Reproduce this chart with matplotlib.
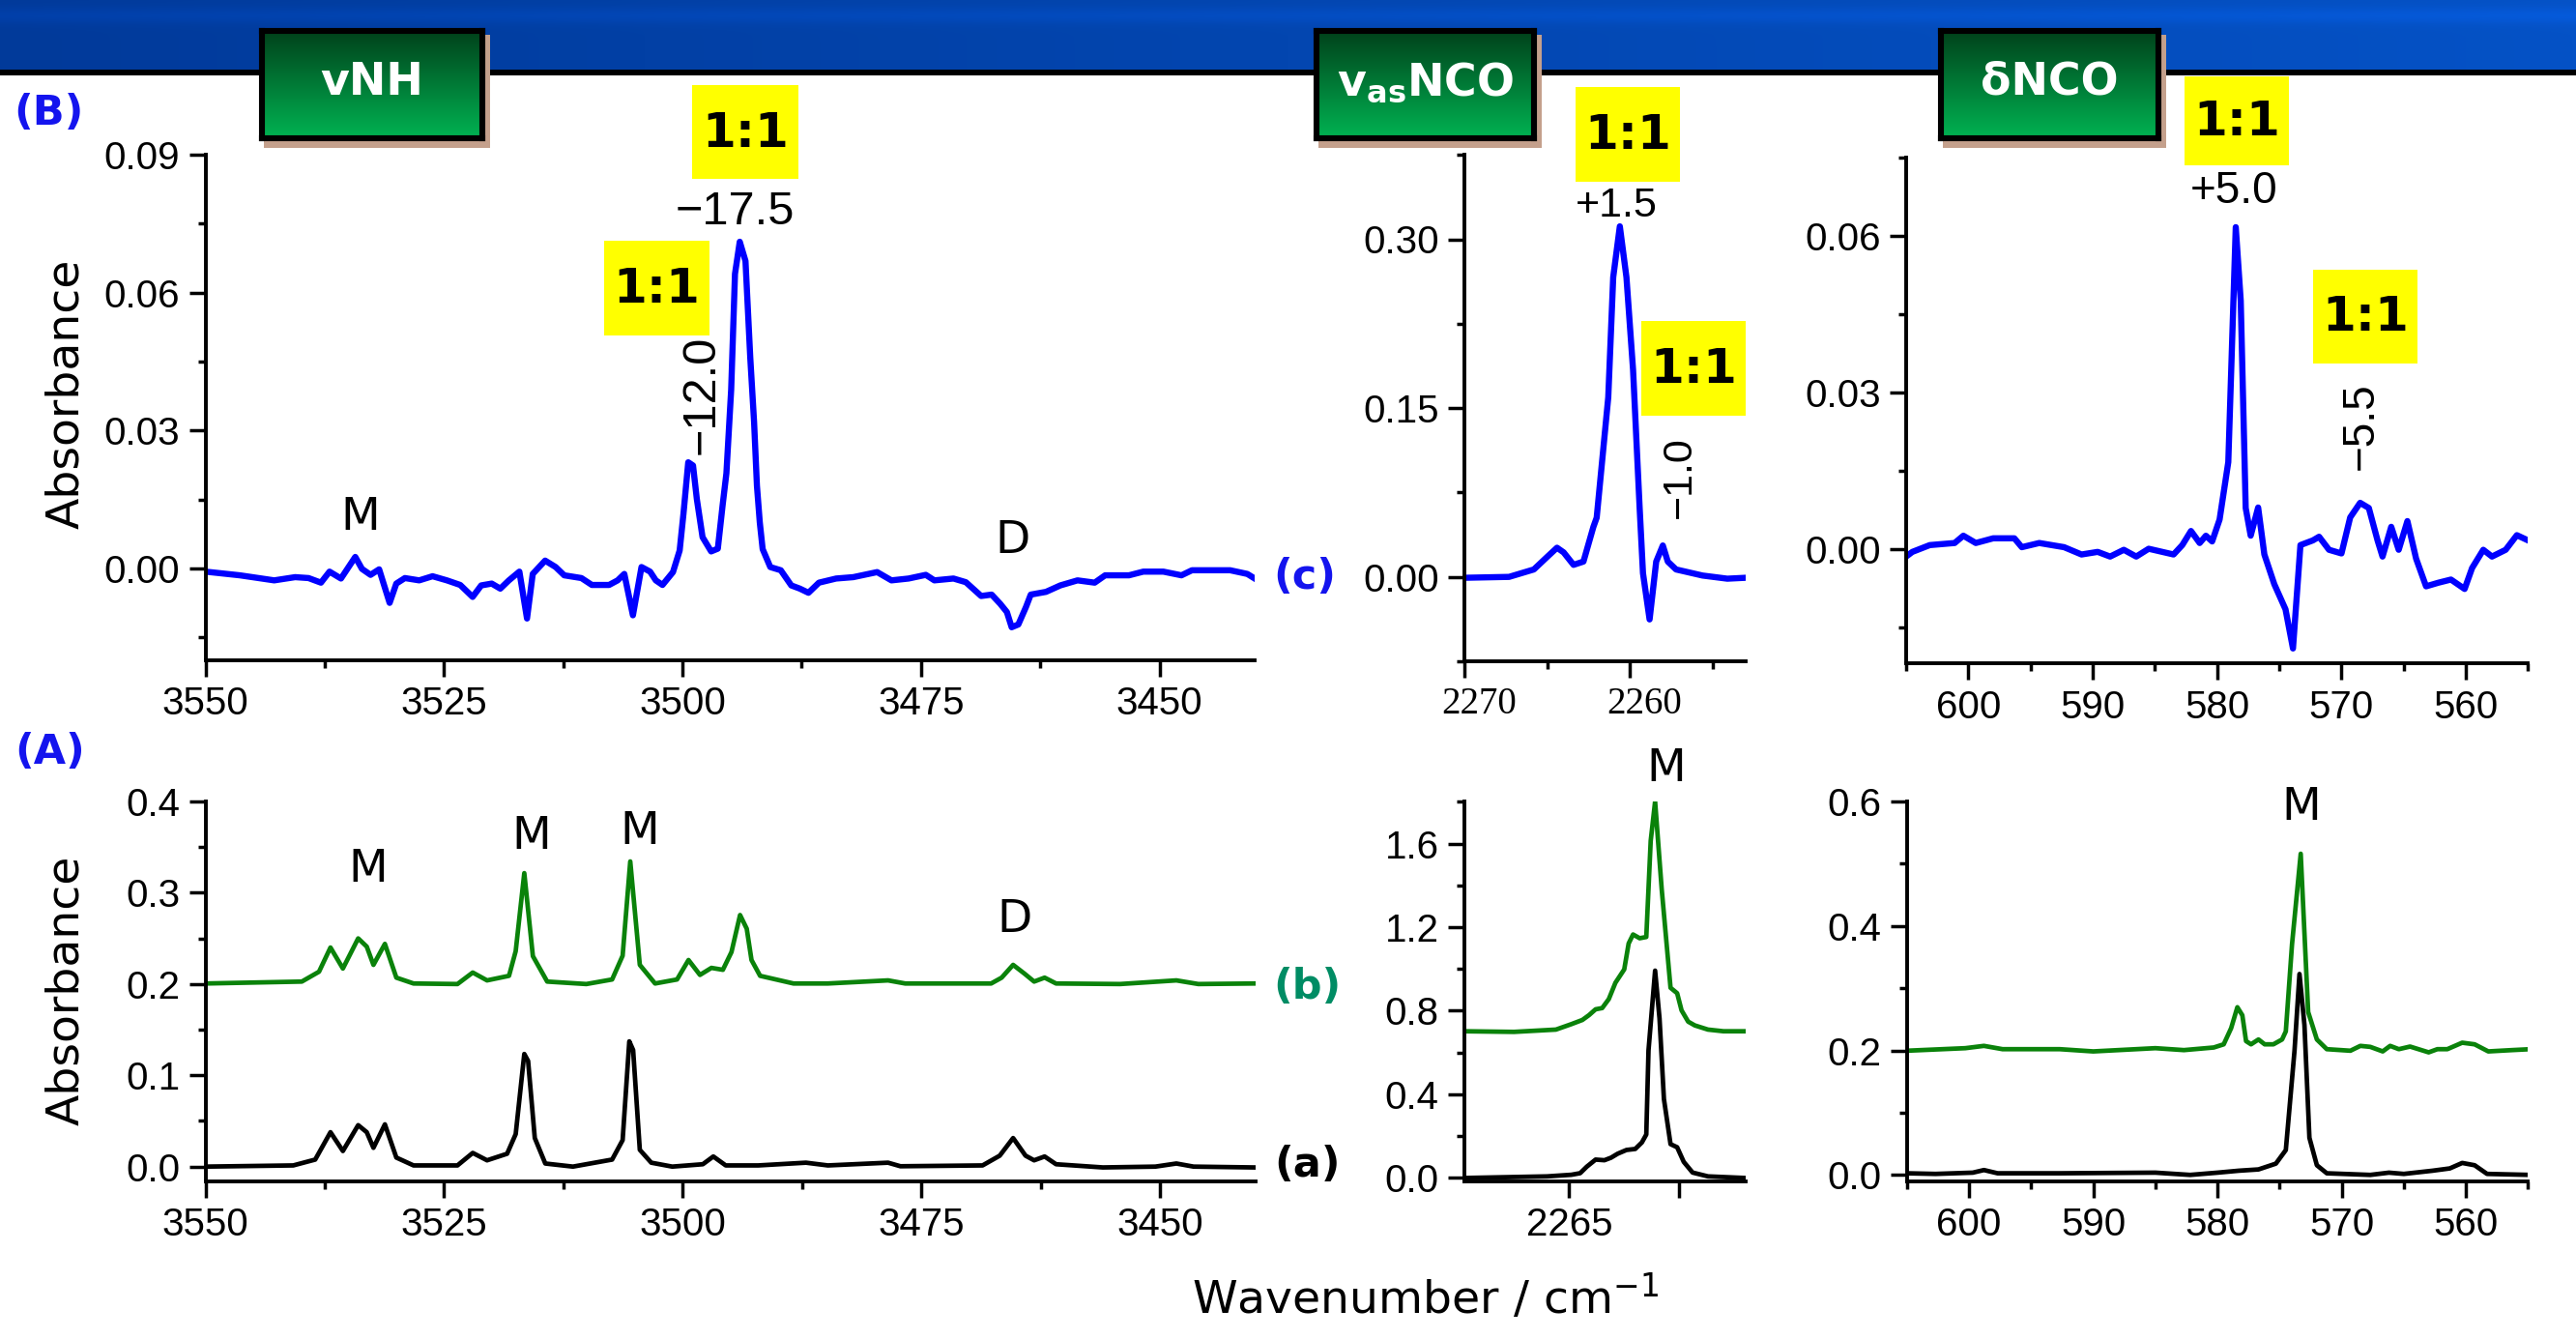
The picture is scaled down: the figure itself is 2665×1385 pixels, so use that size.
import numpy as np
import matplotlib
matplotlib.use('Agg')
import matplotlib.pyplot as plt
from matplotlib.patches import Rectangle
from matplotlib.transforms import ScaledTranslation
import matplotlib.colors as mcolors

# ---------------- data ----------------
# (B) difference spectra, blue
nh_diff = [(3550.0, -0.0007), (3546.4, -0.0015), (3542.8, -0.0026), (3540.6, -0.0019), (3539.2, -0.0021),
           (3537.9, -0.0031), (3537.0, -0.0007), (3535.8, -0.0022), (3534.3, 0.0025), (3533.6, -0.0001),
           (3532.7, -0.0014), (3531.8, -0.0002), (3530.7, -0.0075), (3530.0, -0.0033), (3529.1, -0.0021),
           (3527.6, -0.0026), (3526.2, -0.0017), (3524.7, -0.0026), (3523.3, -0.0036), (3522.0, -0.0062),
           (3521.1, -0.0037), (3520.0, -0.0033), (3519.1, -0.0044), (3518.2, -0.0026), (3517.1, -0.0007),
           (3516.3, -0.0109), (3515.7, -0.0012), (3514.4, 0.0017), (3513.3, 0.0003), (3512.4, -0.0015),
           (3510.6, -0.0021), (3509.5, -0.0036), (3507.7, -0.0036), (3506.8, -0.0026), (3506.1, -0.0012),
           (3505.2, -0.0102), (3504.3, 0.0003), (3503.4, -0.0007), (3502.8, -0.0026), (3502.1, -0.0036),
           (3501.0, -0.0008), (3500.3, 0.0039), (3499.9, 0.0119), (3499.4, 0.0231), (3498.9, 0.0224),
           (3498.5, 0.0151), (3497.9, 0.0068), (3497.0, 0.0037), (3496.3, 0.0043), (3495.8, 0.0137),
           (3495.4, 0.0207), (3494.9, 0.0389), (3494.5, 0.0641), (3494.0, 0.0711), (3493.4, 0.0669),
           (3492.9, 0.0459), (3492.5, 0.0319), (3492.2, 0.0180), (3491.9, 0.0100), (3491.6, 0.0042),
           (3490.8, 0.0003), (3489.7, -0.0004), (3488.6, -0.0037), (3487.7, -0.0044), (3486.8, -0.0053),
           (3485.7, -0.0031), (3483.9, -0.0022), (3482.1, -0.0019), (3479.6, -0.0008), (3478.1, -0.0026),
           (3476.3, -0.0022), (3474.5, -0.0014), (3473.6, -0.0026), (3471.6, -0.0022), (3470.3, -0.0030),
           (3468.7, -0.0060), (3467.6, -0.0057), (3466.7, -0.0077), (3466.0, -0.0095), (3465.5, -0.0128),
           (3464.8, -0.0122), (3464.0, -0.0084), (3463.5, -0.0057), (3461.9, -0.0051), (3460.4, -0.0037),
           (3458.6, -0.0026), (3456.8, -0.0031), (3455.7, -0.0015), (3453.2, -0.0015), (3451.7, -0.0007),
           (3449.6, -0.0007), (3447.7, -0.0015), (3446.6, -0.0004), (3442.6, -0.0004), (3440.8, -0.0012),
           (3440.1, -0.0021)]

nco_diff = [(2270.0, -0.0008), (2267.3, 0.0), (2265.8, 0.0066), (2265.0, 0.0177), (2264.4, 0.0259),
            (2264.0, 0.0218), (2263.4, 0.0107), (2262.8, 0.0136), (2262.2, 0.0444), (2262.0, 0.0526),
            (2261.3, 0.1595), (2261.0, 0.2663), (2260.6, 0.3115), (2260.2, 0.2663), (2259.8, 0.1841),
            (2259.4, 0.0608), (2259.2, 0.0033), (2258.8, -0.0378), (2258.4, 0.0136), (2258.0, 0.0279),
            (2257.7, 0.0136), (2257.2, 0.0066), (2255.6, 0.0012), (2254.1, -0.0016), (2253.0, -0.0008)]

dnco_diff = [(605.0, -0.0015), (604.5, -0.0006), (603.1, 0.0007), (601.1, 0.0011), (600.4, 0.0025),
             (599.4, 0.0011), (598.0, 0.0020), (596.3, 0.0020), (595.7, 0.0003), (594.3, 0.0011),
             (592.3, 0.0003), (590.9, -0.0011), (589.6, -0.0006), (588.6, -0.0015), (587.5, -0.0002),
             (586.5, -0.0015), (585.5, 0.0), (583.5, -0.0011), (582.8, 0.0007), (582.1, 0.0034),
             (581.4, 0.0011), (580.9, 0.0025), (580.4, 0.0014), (579.8, 0.0056), (579.1, 0.0166),
             (578.5, 0.0616), (578.1, 0.0475), (577.7, 0.0078), (577.3, 0.0025), (576.7, 0.0079),
             (576.2, -0.0011), (575.4, -0.0068), (574.5, -0.0116), (573.9, -0.0191), (573.3, 0.0007),
             (572.3, 0.0016), (571.8, 0.0023), (571.0, -0.0002), (570.0, -0.0009), (569.3, 0.0060),
             (568.5, 0.0088), (567.8, 0.0078), (567.1, 0.0016), (566.7, -0.0015), (566.0, 0.0042),
             (565.4, -0.0002), (564.7, 0.0053), (564.0, -0.0019), (563.2, -0.0072), (562.2, -0.0065),
             (561.2, -0.0059), (560.1, -0.0077), (559.5, -0.0037), (558.6, -0.0002), (557.9, -0.0015),
             (556.8, -0.0002), (555.9, 0.0026), (555.0, 0.0016)]

# (A) spectra: (b) green, (a) black
nh_b = [(3550.0, 0.2006), (3539.9, 0.2027), (3538.1, 0.2135), (3536.9, 0.2400), (3535.6, 0.2170),
        (3534.0, 0.2500), (3533.1, 0.2410), (3532.4, 0.2210), (3531.2, 0.2440), (3530.0, 0.2070),
        (3528.2, 0.2006), (3523.6, 0.2000), (3522.0, 0.2126), (3520.5, 0.2040), (3518.2, 0.2090),
        (3517.5, 0.2360), (3516.6, 0.3215), (3515.7, 0.2306), (3514.2, 0.2027), (3510.1, 0.2000),
        (3507.4, 0.2050), (3506.3, 0.2310), (3505.5, 0.3343), (3504.5, 0.2210), (3502.9, 0.2006),
        (3500.6, 0.2050), (3499.4, 0.2263), (3498.2, 0.2100), (3497.0, 0.2177), (3495.8, 0.2156),
        (3494.9, 0.2350), (3494.0, 0.2756), (3493.3, 0.2606), (3492.8, 0.2263), (3491.9, 0.2090),
        (3488.4, 0.2006), (3484.8, 0.2006), (3478.5, 0.2040), (3476.7, 0.2006), (3467.7, 0.2006),
        (3466.6, 0.2070), (3465.4, 0.2210), (3464.2, 0.2113), (3463.2, 0.2027), (3462.1, 0.2070),
        (3460.9, 0.2006), (3454.2, 0.2000), (3448.3, 0.2040), (3446.0, 0.2000), (3440.2, 0.2006)]

nh_a = [(3550.0, 0.0), (3540.8, 0.0013), (3538.5, 0.0077), (3536.9, 0.0377), (3535.6, 0.0171),
        (3534.0, 0.0454), (3533.1, 0.0377), (3532.4, 0.0206), (3531.2, 0.0463), (3530.0, 0.0099),
        (3528.2, 0.0013), (3523.6, 0.0013), (3522.0, 0.0150), (3520.5, 0.0069), (3518.4, 0.0141),
        (3517.5, 0.0356), (3516.6, 0.1234), (3516.2, 0.1157), (3515.5, 0.0313), (3514.4, 0.0034),
        (3511.5, 0.0), (3507.4, 0.0077), (3506.3, 0.0290), (3505.6, 0.1372), (3505.2, 0.1277),
        (3504.5, 0.0184), (3503.3, 0.0043), (3501.1, 0.0), (3497.9, 0.0026), (3496.8, 0.0111),
        (3495.5, 0.0013), (3492.1, 0.0013), (3487.1, 0.0043), (3484.8, 0.0013), (3478.5, 0.0043),
        (3477.2, 0.0004), (3468.6, 0.0013), (3466.8, 0.0120), (3465.4, 0.0313), (3464.1, 0.0120),
        (3463.2, 0.0069), (3462.1, 0.0111), (3460.9, 0.0026), (3456.0, -0.0009), (3450.5, 0.0),
        (3448.3, 0.0034), (3446.5, 0.0), (3440.2, -0.0009)]

nco_b = [(2269.75, 0.702), (2267.5, 0.699), (2265.6, 0.710), (2264.9, 0.736), (2264.4, 0.756),
         (2264.1, 0.779), (2263.8, 0.807), (2263.5, 0.813), (2263.2, 0.856), (2262.9, 0.934),
         (2262.5, 0.998), (2262.3, 1.122), (2262.1, 1.165), (2261.8, 1.147), (2261.5, 1.153),
         (2261.3, 1.613), (2261.1, 1.801), (2260.8, 1.381), (2260.4, 0.910), (2260.1, 0.884),
         (2259.9, 0.802), (2259.6, 0.748), (2259.3, 0.730), (2258.7, 0.710), (2258.0, 0.702),
         (2257.0, 0.702)]

nco_a = [(2269.75, 0.0), (2266.0, 0.0077), (2264.9, 0.0154), (2264.5, 0.023), (2264.2, 0.054),
         (2263.8, 0.088), (2263.4, 0.085), (2263.1, 0.097), (2262.8, 0.116), (2262.4, 0.134),
         (2262.0, 0.139), (2261.7, 0.170), (2261.5, 0.208), (2261.4, 0.610), (2261.1, 0.992),
         (2260.9, 0.764), (2260.7, 0.378), (2260.4, 0.162), (2260.1, 0.147), (2259.8, 0.077),
         (2259.4, 0.026), (2258.7, 0.0077), (2257.0, 0.0)]

dnco_b = [(605.0, 0.1995), (600.3, 0.2036), (598.8, 0.2073), (597.3, 0.2020), (592.7, 0.2020),
          (590.0, 0.1984), (585.0, 0.2036), (582.7, 0.2005), (580.3, 0.2047), (579.5, 0.2098),
          (578.9, 0.2358), (578.4, 0.2694), (578.0, 0.2565), (577.7, 0.2150), (577.3, 0.2098),
          (576.7, 0.2176), (576.2, 0.2098), (575.5, 0.2098), (574.8, 0.2176), (574.5, 0.2306),
          (574.0, 0.3705), (573.3, 0.5160), (572.7, 0.2617), (572.0, 0.2176), (571.2, 0.2020),
          (569.3, 0.1995), (568.5, 0.2073), (567.7, 0.2057), (566.7, 0.1984), (566.1, 0.2073),
          (565.4, 0.2020), (564.5, 0.2062), (563.0, 0.1969), (562.3, 0.2020), (561.5, 0.2020),
          (560.3, 0.2124), (559.3, 0.2098), (558.2, 0.1984), (556.3, 0.2005), (554.8, 0.2020)]

dnco_a = [(605.0, 0.0026), (602.7, 0.0016), (599.7, 0.0036), (598.8, 0.0078), (597.7, 0.0026),
          (592.7, 0.0026), (585.0, 0.0036), (582.2, 0.0), (580.0, 0.0036), (578.3, 0.0067),
          (576.7, 0.0088), (575.3, 0.0181), (574.5, 0.0399), (573.8, 0.1995), (573.4, 0.3228),
          (573.0, 0.2409), (572.6, 0.0596), (572.0, 0.0155), (571.2, 0.0026), (567.7, 0.0),
          (566.2, 0.0036), (565.0, 0.0016), (562.7, 0.0067), (561.3, 0.0104), (560.3, 0.0192),
          (559.3, 0.0155), (558.3, 0.0016), (554.8, 0.0)]

# tick values / labels
nh_xticks = [3550, 3525, 3500, 3475, 3450]
nh_xlabels = ['3550', '3525', '3500', '3475', '3450']
nh_top_yticks = [0.0, 0.03, 0.06, 0.09]
nh_top_ylabels = ['0.00', '0.03', '0.06', '0.09']
nco_top_xticks = [2270, 2260]
nco_top_xlabels = ['2270', '2260']
nco_top_yticks = [0.0, 0.15, 0.30]
nco_top_ylabels = ['0.00', '0.15', '0.30']
dnco_xticks = [600, 590, 580, 570, 560]
dnco_xlabels = ['600', '590', '580', '570', '560']
dnco_top_yticks = [0.0, 0.03, 0.06]
dnco_top_ylabels = ['0.00', '0.03', '0.06']
nh_bot_yticks = [0.0, 0.1, 0.2, 0.3, 0.4]
nh_bot_ylabels = ['0.0', '0.1', '0.2', '0.3', '0.4']
nco_bot_xticks = [2265, 2260]
nco_bot_xlabels = ['2265', '']
nco_bot_yticks = [0.0, 0.4, 0.8, 1.2, 1.6]
nco_bot_ylabels = ['0.0', '0.4', '0.8', '1.2', '1.6']
dnco_bot_yticks = [0.0, 0.2, 0.4, 0.6]
dnco_bot_ylabels = ['0.0', '0.2', '0.4', '0.6']

# ---------------- figure ----------------
W, H = 2665, 1385
DPI = 100
plt.rcParams['font.family'] = ['DejaVu Sans']
fig = plt.figure(figsize=(W / DPI, H / DPI), dpi=DPI)
fig.patch.set_facecolor('white')

BLUE = '#0000ff'
GREEN = '#0a820a'
NUMFONT = 'Liberation Sans'


def add_ax(l, r, t, b, z=3):
    ax = fig.add_axes([l / W, 1 - b / H, (r - l) / W, (b - t) / H])
    ax.set_zorder(z)
    ax.set_facecolor('none')
    return ax


def frect(l, r, t, b, **kw):
    fig.add_artist(Rectangle((l / W, 1 - b / H), (r - l) / W, (b - t) / H,
                             transform=fig.transFigure, **kw))


def ftext(x, y, s, **kw):
    kw.setdefault('ha', 'center')
    kw.setdefault('va', 'center')
    fig.text(x / W, 1 - y / H, s, **kw)


# header band
hax = add_ax(0, W, 0, 72, z=0)
hax.axis('off')
gx = np.linspace(0, 1, 400)
gy = np.linspace(0, 1, 60)
c0 = np.array(mcolors.to_rgb('#013a9a'))
c1 = np.array(mcolors.to_rgb('#0552c6'))
img = c0[None, None, :] * (1 - gx[None, :, None]) + c1[None, None, :] * gx[None, :, None]
band = 1 + 0.10 * np.exp(-((gy - 0.22) / 0.12) ** 2)
img = np.clip(img * band[:, None, None], 0, 1)
hax.imshow(img, aspect='auto', extent=[0, 1, 0, 1], origin='upper')
hax.set_xlim(0, 1)
hax.set_ylim(0, 1)
frect(0, W, 72, 78, facecolor='black', edgecolor='none', zorder=1)

# green title boxes
gcol0 = np.array(mcolors.to_rgb('#00421b'))
gcol1 = np.array(mcolors.to_rgb('#00b352'))
gt = np.linspace(0, 1, 100)
gimg = gcol0[None, None, :] * (1 - gt[:, None, None]) + gcol1[None, None, :] * gt[:, None, None]


def title_box(l, r, t, b, label):
    frect(l + 5, r + 5, t + 7, b + 7, facecolor='#c4a08c', edgecolor='none', zorder=1)
    ax = add_ax(l + 3, r - 3, t + 3, b - 3, z=2)
    ax.imshow(gimg, aspect='auto', extent=[0, 1, 0, 1], origin='upper')
    ax.set_xlim(0, 1)
    ax.set_ylim(0, 1)
    ax.set_xticks([])
    ax.set_yticks([])
    for s in ax.spines.values():
        s.set_linewidth(4.4)
        s.set_color('black')
    ax.text(0.5, 0.52, label, transform=ax.transAxes, ha='center', va='center',
            color='white', fontsize=33, fontweight='bold')


title_box(268, 502, 29, 146, 'vNH')
title_box(1359, 1590, 29, 146, 'v$_{\\mathregular{as}}$NCO')
title_box(2005, 2236, 29, 146, '\u03b4NCO')


# ---------------- spectra axes ----------------
def style(ax, xlim, ylim, xt, xl, xminor, yt, yl, yminor):
    ax.set_xlim(*xlim)
    ax.set_ylim(*ylim)
    for s in ['top', 'right']:
        ax.spines[s].set_visible(False)
    for s in ['left', 'bottom']:
        ax.spines[s].set_linewidth(2.8)
    ax.set_xticks(xt)
    ax.set_xticklabels(xl)
    ax.set_xticks(xminor, minor=True)
    ax.set_yticks(yt)
    ax.set_yticklabels(yl)
    ax.set_yticks(yminor, minor=True)
    ax.tick_params(which='major', length=12, width=2.5, direction='out', labelsize=29, pad=7)
    ax.tick_params(which='minor', length=6, width=2.5, direction='out')
    for lab in ax.get_xticklabels() + ax.get_yticklabels():
        lab.set_fontfamily(NUMFONT)


def xy(data):
    x, y = zip(*data)
    return list(x), list(y)


# top-left (B) vNH
ax1 = add_ax(212.6, 1298.3, 160.2, 683)
x, y = xy(nh_diff)
ax1.plot(x, y, color=BLUE, lw=4.6, solid_joinstyle='round')
style(ax1, (3550, 3440), (-0.02, 0.09), nh_xticks, nh_xlabels, [3537.5, 3512.5, 3487.5, 3462.5],
      nh_top_yticks, nh_top_ylabels, [-0.015, 0.015, 0.045, 0.075])

# top-middle vasNCO
ax2 = add_ax(1515, 1805.8, 160.2, 684)
x, y = xy(nco_diff)
ax2.plot(x, y, color=BLUE, lw=4.6, solid_joinstyle='round')
style(ax2, (2270, 2253), (-0.075, 0.375), nco_top_xticks, nco_top_xlabels, [2265, 2255],
      nco_top_yticks, nco_top_ylabels, [-0.075, 0.075, 0.225, 0.375])
for lab in ax2.get_xticklabels():
    lab.set_fontfamily('Liberation Serif')
    lab.set_fontsize(28)
    lab.set_transform(lab.get_transform() + ScaledTranslation(15 / DPI, 0, fig.dpi_scale_trans))

# top-right dNCO
ax3 = add_ax(1972, 2615.4, 162.6, 686.4)
x, y = xy(dnco_diff)
ax3.plot(x, y, color=BLUE, lw=4.6, solid_joinstyle='round')
style(ax3, (605, 555), (-0.022, 0.075), dnco_xticks, dnco_xlabels, [605, 595, 585, 575, 565, 555],
      dnco_top_yticks, dnco_top_ylabels, [-0.015, 0.015, 0.045, 0.075])

# bottom-left (A) vNH
ax4 = add_ax(212.5, 1299, 829, 1221.8)
x, y = xy(nh_b)
ax4.plot(x, y, color=GREEN, lw=3.4)
x, y = xy(nh_a)
ax4.plot(x, y, color='black', lw=3.4)
style(ax4, (3550, 3440), (-0.016, 0.4), nh_xticks, nh_xlabels, [3537.5, 3512.5, 3487.5, 3462.5],
      nh_bot_yticks, nh_bot_ylabels, [0.05, 0.15, 0.25, 0.35])

# bottom-middle vasNCO
ax5 = add_ax(1515, 1805.8, 829.3, 1221.7)
x, y = xy(nco_b)
ax5.plot(x, y, color=GREEN, lw=3.4)
x, y = xy(nco_a)
ax5.plot(x, y, color='black', lw=3.4)
style(ax5, (2269.75, 2257), (-0.015, 1.8), nco_bot_xticks, nco_bot_xlabels, [],
      nco_bot_yticks, nco_bot_ylabels, [0.2, 0.6, 1.0, 1.4, 1.8])

# bottom-right dNCO
ax6 = add_ax(1972.8, 2615.4, 829, 1221.7)
x, y = xy(dnco_b)
ax6.plot(x, y, color=GREEN, lw=3.4)
x, y = xy(dnco_a)
ax6.plot(x, y, color='black', lw=3.4)
style(ax6, (605, 555), (-0.01, 0.6), dnco_xticks, dnco_xlabels, [605, 595, 585, 575, 565, 555],
      dnco_bot_yticks, dnco_bot_ylabels, [0.1, 0.3, 0.5])

# ---------------- annotations ----------------
def ybox(l, r, t, b):
    frect(l, r, t, b, facecolor='#ffff00', edgecolor='none', zorder=5)
    ftext((l + r) / 2, (t + b) / 2 + 1, '1:1', fontsize=36, fontweight='bold', zorder=6)


ybox(716, 826, 88, 185)
ybox(625, 734, 249, 347)
ybox(1630, 1738, 90, 188)
ybox(1698, 1806, 332, 430)
ybox(2260, 2368, 79, 171)
ybox(2393, 2501, 279, 376)

num_kw = dict(fontsize=35, family=NUMFONT, zorder=6)
ftext(760, 220, '\u221217.5', **num_kw)
ftext(726, 408, '\u221212.0', rotation=90, **num_kw)
ftext(1672, 213, '+1.5', fontsize=31, family=NUMFONT, zorder=6)
ftext(1738, 494, '\u22121.0', rotation=90, fontsize=31, family=NUMFONT, zorder=6)
ftext(2311, 198, '+5.0', fontsize=33, family=NUMFONT, zorder=6)
ftext(2443, 441, '\u22125.5', rotation=90, fontsize=33, family=NUMFONT, zorder=6)

lab_kw = dict(fontsize=34, zorder=6)
ftext(373, 536, 'M', **lab_kw)
ftext(1048, 560, 'D', **lab_kw)
ftext(381, 899, 'M', **lab_kw)
ftext(550, 865, 'M', **lab_kw)
ftext(662, 861, 'M', **lab_kw)
ftext(1050, 952, 'D', **lab_kw)
ftext(1724, 795, 'M', **lab_kw)
ftext(2381, 836, 'M', **lab_kw)

ftext(50, 117, '(B)', fontsize=31, fontweight='bold', color='#1414ee', zorder=6)
ftext(52, 778, '(A)', fontsize=31, fontweight='bold', color='#1414ee', zorder=6)
ftext(1350, 597, '(c)', fontsize=31, fontweight='bold', color='#1414ee', zorder=6)
ftext(1352, 1021, '(b)', fontsize=31, fontweight='bold', color='#008c64', zorder=6)
ftext(1352, 1205, '(a)', fontsize=31, fontweight='bold', color='black', zorder=6)

ftext(69, 407, 'Absorbance', fontsize=34, rotation=90, zorder=6)
ftext(69, 1024, 'Absorbance', fontsize=34, rotation=90, zorder=6)
ftext(1475, 1343, 'Wavenumber / cm$^{\\mathregular{-1}}$', fontsize=34, zorder=6)

fig.savefig('out.png', dpi=DPI, facecolor='white')
